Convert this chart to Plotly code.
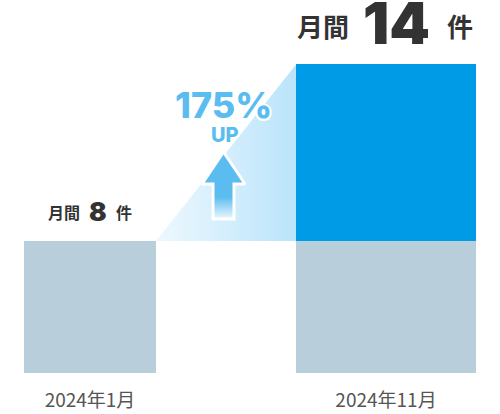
import plotly.graph_objects as go

# データ
months = ["2024年1月", "2024年11月"]
counts = [8, 14]
base_heights = [8, 8]        # グレー部分 (描画上の高さ)
extra_heights = [0, 10.7]    # 青部分 (描画上の高さ, 14件は誇張表示)
growth_label = "175%"

# レイアウト用の定数
W, H = 500, 414
BAR_X = [0, 1]
BAR_W = [0.446, 0.608]
PX_X0, PX_X_UNIT = 90, 296     # x=0 の位置と 1単位あたりのpx
PX_Y0, PX_Y_UNIT = 373, 16.5   # y=0 の位置と 1単位あたりのpx
BLUE = "#009be6"
GREY = "#b8cedb"
LIGHT = "#5bbcf0"
DARK = "#333333"
NUM_FONT = "Inter"


def px_x(p):
    return (p - PX_X0) / PX_X_UNIT


def px_y(p):
    return (PX_Y0 - p) / PX_Y_UNIT


fig = go.Figure()

# グラデーションの三角形 (左の棒の右上 -> 右の棒の左上)
tops = [b + e for b, e in zip(base_heights, extra_heights)]
x_left = BAR_X[0] + BAR_W[0] / 2
x_right = BAR_X[1] - BAR_W[1] / 2
fig.add_trace(go.Scatter(
    x=[x_left, x_right, x_right, x_left],
    y=[tops[0], tops[1], base_heights[1], tops[0]],
    mode="lines", line=dict(width=0), fill="toself",
    fillgradient=dict(type="horizontal",
                      colorscale=[[0, "rgba(238,248,254,1)"], [1, "rgba(186,228,250,1)"]]),
    hoverinfo="skip", showlegend=False,
))

fig.add_trace(go.Bar(x=BAR_X, y=base_heights, width=BAR_W, marker=dict(color=GREY, line=dict(width=0)),
                     showlegend=False, hoverinfo="skip"))
fig.add_trace(go.Bar(x=BAR_X, y=extra_heights, width=BAR_W, marker=dict(color=BLUE, line=dict(width=0)),
                     showlegend=False, hoverinfo="skip"))

# 上向き矢印
ax = [223.5, 245, 234, 234, 213, 213, 202, 223.5]
ay = [152, 184, 184, 219, 219, 184, 184, 152]
fig.add_trace(go.Scatter(
    x=[px_x(v) for v in ax], y=[px_y(v) for v in ay],
    mode="lines", line=dict(color="white", width=3), fill="toself",
    fillgradient=dict(type="vertical", start=px_y(219), stop=px_y(152),
                      colorscale=[[0, "#eef8fe"], [0.33, LIGHT], [1, LIGHT]]),
    hoverinfo="skip", showlegend=False,
))

outline = ", ".join(f"{dx}px {dy}px 0 #fff" for dx, dy in
                    [(2, 0), (-2, 0), (0, 2), (0, -2), (1.5, 1.5), (-1.5, 1.5), (1.5, -1.5), (-1.5, -1.5)])


def label(x, y, text, size, xshift, yshift, weight="bold", family="Noto Sans CJK JP", color=DARK, shadow="none"):
    fig.add_annotation(x=x, y=y, xref="x", yref="y", text=text, showarrow=False,
                       xanchor="center", yanchor="middle", xshift=xshift, yshift=yshift,
                       font=dict(family=family, size=size, color=color, weight=weight, shadow=shadow))


# 棒の上のラベル
label(BAR_X[0], tops[0], "月間", 16, -26, 29)
label(BAR_X[0], tops[0], str(counts[0]), 26, 7.5, 30, weight=900, family=NUM_FONT)
label(BAR_X[0], tops[0], "件", 16, 34, 29)
label(BAR_X[1], tops[1], "月間", 26, -63, 39)
label(BAR_X[1], tops[1], str(counts[1]), 58, 10, 41, weight=900, family=NUM_FONT)
label(BAR_X[1], tops[1], "件", 26, 74, 39)

# 伸び率
label(px_x(223.5), px_y(105), growth_label, 36, 0, 0, weight=800, family=NUM_FONT, color=LIGHT, shadow=outline)
label(px_x(225), px_y(134.5), "UP", 20, 0, 0, weight=800, family=NUM_FONT, color=LIGHT, shadow=outline)

fig.update_layout(
    width=W, height=H,
    margin=dict(l=0, r=0, t=0, b=H - PX_Y0),
    barmode="stack", bargap=0,
    plot_bgcolor="white", paper_bgcolor="white",
    xaxis=dict(range=[px_x(0), px_x(W)], tickvals=BAR_X, ticktext=months,
               showgrid=False, zeroline=False, showline=False, ticks="",
               ticklabelstandoff=14,
               tickfont=dict(family="Noto Sans CJK JP", size=19, color="#555555"),
               fixedrange=True),
    yaxis=dict(range=[0, px_y(0)], visible=False, fixedrange=True),
)

# ページの余白をなくす
fig.write_html("out.html", config=dict(displayModeBar=False),
               post_script="document.body.style.margin='0';")
